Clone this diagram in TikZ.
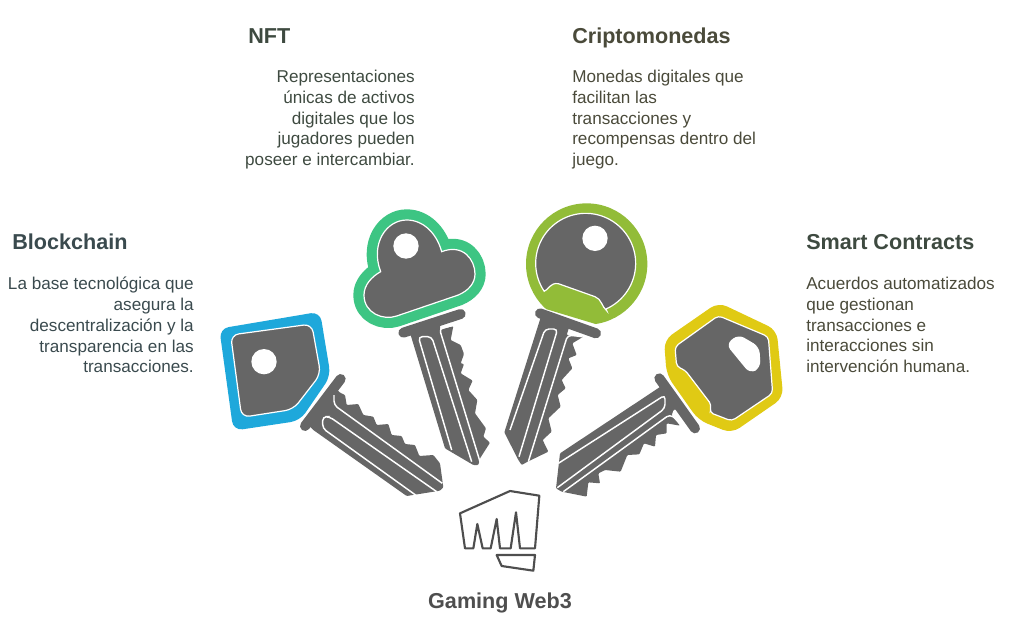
\documentclass[tikz,border=0pt]{standalone}
\usepackage{fontspec}
\setmainfont{Liberation Sans}
\definecolor{keygray}{HTML}{666666}
\definecolor{keyblue}{HTML}{1EA8DB}
\definecolor{keygreen}{HTML}{3DC583}
\definecolor{keylime}{HTML}{92BC38}
\definecolor{keyyellow}{HTML}{E0CA14}
\definecolor{fistgray}{HTML}{4E4E4E}
\definecolor{inkblue}{HTML}{3A4A4E}
\definecolor{inkgreen}{HTML}{3E4A40}
\definecolor{inkolive}{HTML}{4A4A3A}
\tikzset{
  keybody/.style={fill=keygray, draw=white, line width=0.9pt, rounded corners=2.2pt},
  keysteel/.style={fill=keygray, rounded corners=0.7pt},
  keybar/.style={draw=keygray, line width=7.5pt, line cap=round},
  groove/.style={draw=white, line width=1.1pt, rounded corners=3pt},
  hole/.style={fill=white},
  fistline/.style={draw=fistgray, line width=1.6pt, line join=round},
  title/.style={font=\bfseries\fontsize{16.2}{20}\selectfont, inner sep=0pt},
  body/.style={font=\fontsize{12.85}{15.55}\selectfont, inner sep=0pt}
}
\begin{document}
\begin{tikzpicture}[x=0.75pt, y=-0.75pt]
  \useasboundingbox (0,0) rectangle (1024,629);

  % blue key
  \begin{scope}[shift={(210,300)}, x=0.25pt, y=-0.25pt]
    \fill[keyblue, rounded corners=7pt] (28,86) -- (330,35) -- (362,228) -- (270,362) -- (70,392) -- cycle;
    \path[keybody, rounded corners=6pt] (62,105) -- (305,72) -- (332,222) -- (250,328) -- (95,352) -- cycle;
    \fill[hole] (162,185) circle (38);
    \draw[keybar] (285,378) -- (392,237);
    \path[keysteel] (375,262) -- (390,278) -- (405,285) -- (410,315) -- (445,312) -- (460,345) -- (490,350)
      -- (500,375) -- (535,372) -- (545,405) -- (575,408) -- (585,432) -- (615,435) -- (628,468)
      -- (670,465) -- (690,490) -- (700,562) -- (690,572) -- (590,588) -- (310,390) -- (296,376) -- cycle;
    \draw[groove] (372,285) -- (372,315) -- (697,550);
    \draw[groove] (618,586) -- (338,385) -- (338,350) -- (358,350) -- (680,575);
  \end{scope}

  % green key
  \begin{scope}[shift={(340,200)}, x=0.25pt, y=-0.25pt]
    \def\cloudpath{(122,215) .. controls (90,130) and (140,60) .. (200,60)
      .. controls (250,60) and (290,100) .. (305,155)
      .. controls (370,130) and (405,180) .. (405,222)
      .. controls (405,250) and (385,272) .. (355,285) -- (170,348)
      .. controls (130,362) and (72,340) .. (72,285)
      .. controls (72,255) and (95,230) .. (122,215) -- cycle}
    \draw[keygreen, fill=keygreen, line width=16pt, line join=round] \cloudpath;
    \path[keybody, rounded corners=0pt] \cloudpath;
    \fill[hole] (198,138) circle (38);
    \draw[keybar] (190,398) -- (362,342);
    \path[keysteel] (208,392) -- (300,362) -- (300,390) -- (340,378) -- (332,420) -- (362,435) -- (372,462) -- (362,490) -- (372,492)
      -- (362,520) -- (398,542) -- (385,570) -- (412,600) -- (405,640) -- (438,685) -- (430,710)
      -- (450,728) -- (420,775) -- (415,795) -- (400,795) -- (315,745) -- cycle;
    \draw[groove] (335,750) -- (235,410) -- (275,410) -- (395,785);
    \draw[groove] (420,785) -- (298,385) -- (342,376);
  \end{scope}

  % lime key
  \begin{scope}[shift={(495,195)}, x=0.25pt, y=-0.25pt]
    \begin{scope}
      \clip (0,0) -- (600,0) -- (600,477) -- (0,296) -- cycle;
      \fill[keylime] (275,207) circle (182);
    \end{scope}
    \path[keybody, rounded corners=0pt] plot[domain=66:-214, samples=70] ({272+150*cos(\x)},{205+150*sin(\x)})
      .. controls (160,285) and (165,262) .. (190,266) -- (300,305)
      .. controls (320,312) and (320,335) .. (335,347) -- cycle;
    \fill[hole] (300,130) circle (38);
    \draw[keybar] (135,355) -- (303,415);
    \path[keysteel] (140,358) -- (225,388) -- (215,420) -- (265,425) -- (232,445) -- (245,480) -- (220,490) -- (232,520)
      -- (200,555) -- (212,580) -- (188,600) -- (197,635) -- (160,670) -- (170,710) -- (143,735)
      -- (160,770) -- (98,800) -- (80,810) -- (70,795) -- (28,712) -- cycle;
    \draw[groove] (45,705) -- (150,402) -- (188,402) -- (72,785);
    \draw[groove] (100,800) -- (218,420) -- (262,425);
  \end{scope}

  % yellow key
  \begin{scope}[shift={(550,295)}, x=0.25pt, y=-0.25pt]
    \fill[keyyellow, rounded corners=7pt] (342,135) -- (505,22) -- (680,105) -- (700,308) -- (545,415) -- (445,375) -- (350,240) -- cycle;
    \path[keybody, rounded corners=3pt] (375,155) -- (505,62) -- (655,125) -- (668,295) -- (545,378) -- (478,352)
      -- (485,330) -- (405,225) -- (380,215) -- cycle;
    \fill[hole, rounded corners=5pt] (528,148) -- (565,118) -- (628,155) -- (632,218) -- (600,236) -- cycle;
    \draw[keybar] (328,250) -- (435,400);
    \path[keysteel] (342,268) -- (30,475) -- (18,580) -- (35,590) -- (110,605) -- (115,562) -- (150,565) -- (145,535)
      -- (165,525) -- (212,530) -- (232,480) -- (268,478) -- (282,445) -- (315,455) -- (318,420)
      -- (350,415) -- (350,385) -- (390,392) -- (365,362) -- (370,345) -- (392,340) -- cycle;
    \draw[groove] (25,505) -- (345,300) -- (345,340) -- (22,578);
    \draw[groove] (40,590) -- (360,358) -- (385,378);
  \end{scope}

  % fist
  \begin{scope}[shift={(420,480)}, x=0.25pt, y=-0.25pt]
    \draw[fistline] (120,100) -- (270,33) -- (358,47) -- (345,205) -- (300,205) -- (288,97)
      -- (272,205) -- (240,205) -- (230,117) -- (212,205) -- (188,205) -- (172,132) -- (160,205) -- (135,205) -- cycle;
    \draw[fistline] (230,225) -- (345,225) -- (340,272) -- (245,258) -- cycle;
  \end{scope}

  % labels
  \node[title, text=inkgreen, anchor=base west] (nftTitle) at (248,43) {NFT};
  \node[body, text=inkgreen, align=right, anchor=north east] (nftBody) at (415,70) {Representaciones\\únicas de activos\\digitales que los\\jugadores pueden\\poseer e intercambiar.};
  \node[title, text=inkolive, anchor=base west] (cryptoTitle) at (572,43) {Criptomonedas};
  \node[body, text=inkolive, align=left, anchor=north west] (cryptoBody) at (572,70) {Monedas digitales que\\facilitan las\\transacciones y\\recompensas dentro del\\juego.};
  \node[title, text=inkblue, anchor=base west] (chainTitle) at (12,249) {Blockchain};
  \node[body, text=inkblue, align=right, anchor=north east] (chainBody) at (194,277) {La base tecnológica que\\asegura la\\descentralización y la\\transparencia en las\\transacciones.};
  \node[title, text=inkgreen, anchor=base west] (smartTitle) at (806,249) {Smart Contracts};
  \node[body, text=inkolive, align=left, anchor=north west] (smartBody) at (806,277) {Acuerdos automatizados\\que gestionan\\transacciones e\\interacciones sin\\intervención humana.};
  \node[title, text=fistgray, anchor=base] (gameTitle) at (500,608) {Gaming Web3};
\end{tikzpicture}
\end{document}
